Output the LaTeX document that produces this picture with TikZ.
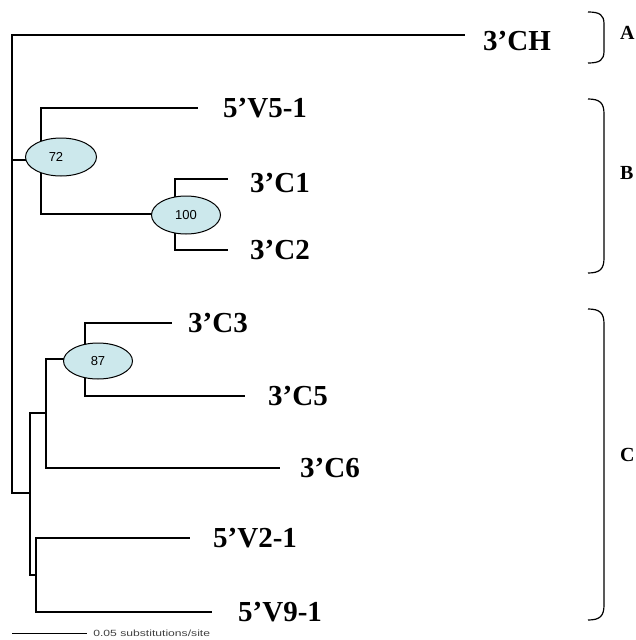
\documentclass[tikz,border=0pt]{standalone}
\usepackage{fontspec}
\setmainfont{Liberation Serif}
\newfontfamily\numfont{Liberation Sans}
\usetikzlibrary{shapes.geometric}
\definecolor{bootfill}{RGB}{204,232,236}
\tikzset{
  x=1pt, y=-1pt,
  branch/.style={line width=1.3pt, line join=miter},
  taxon/.style={anchor=west, inner sep=0pt, font=\fontsize{29}{29}\selectfont\bfseries},
  boot/.style={ellipse, draw, line width=1pt, fill=bootfill, inner sep=0pt,
    font=\numfont\fontsize{13}{13}\selectfont},
  clade/.style={line width=1.2pt},
  cladelabel/.style={anchor=west, inner sep=0pt, font=\fontsize{20}{20}\selectfont\bfseries}
}
\begin{document}
\begin{tikzpicture}
\useasboundingbox (0,0) rectangle (636,640);

% internal nodes
\coordinate (root) at (12,160);
\coordinate (n72)  at (41,160);
\coordinate (n100) at (175,214);
\coordinate (nC)   at (30,493);
\coordinate (nC6)  at (46,413);
\coordinate (n87)  at (85,359);
\coordinate (nV)   at (36,575);

% tips
\coordinate (tCH)  at (465,35);
\coordinate (tV51) at (198,108);
\coordinate (tC1)  at (228,179);
\coordinate (tC2)  at (228,250);
\coordinate (tC3)  at (172,323);
\coordinate (tC5)  at (245,396);
\coordinate (tC6)  at (280,468);
\coordinate (tV21) at (190,538);
\coordinate (tV91) at (212,612);

% branches
\draw[branch] (root) |- (tCH);
\draw[branch] (root) -- (n72);
\draw[branch] (root) |- (nC);
\draw[branch] (n72) |- (tV51);
\draw[branch] (n72) |- (n100);
\draw[branch] (n100) |- (tC1);
\draw[branch] (n100) |- (tC2);
\draw[branch] (nC) |- (nC6);
\draw[branch] (nC) |- (nV);
\draw[branch] (nC6) |- (n87);
\draw[branch] (nC6) |- (tC6);
\draw[branch] (n87) |- (tC3);
\draw[branch] (n87) |- (tC5);
\draw[branch] (nV) |- (tV21);
\draw[branch] (nV) |- (tV91);

% bootstrap values
\node[boot, minimum width=71pt, minimum height=38pt] (b72)  at (61,157) {72\hspace*{10pt}};
\node[boot, minimum width=69pt, minimum height=38pt] (b100) at (186,215) {100};
\node[boot, minimum width=69pt, minimum height=36pt] (b87)  at (98,361) {87};

% taxon names
\node[taxon] (lCH)  at ([xshift=18pt,yshift=-6pt]tCH)  {3’CH};
\node[taxon] (lV51) at ([xshift=25pt]tV51) {5’V5-1};
\node[taxon] (lC1)  at ([xshift=22pt,yshift=-4pt]tC1)  {3’C1};
\node[taxon] (lC2)  at ([xshift=22pt]tC2)  {3’C2};
\node[taxon] (lC3)  at ([xshift=16pt]tC3)  {3’C3};
\node[taxon] (lC5)  at ([xshift=23pt]tC5)  {3’C5};
\node[taxon] (lC6)  at ([xshift=20pt]tC6)  {3’C6};
\node[taxon] (lV21) at ([xshift=23pt]tV21) {5’V2-1};
\node[taxon] (lV91) at ([xshift=26pt]tV91) {5’V9-1};

% clade brackets
\coordinate (aTop) at (588,12);  \coordinate (aBot) at (588,63);
\coordinate (bTop) at (588,99);  \coordinate (bBot) at (588,273);
\coordinate (cTop) at (588,309); \coordinate (cBot) at (588,620);
\draw[clade] (aTop) .. controls (600,12) and (604,15) .. (604,24)
  -- (604,51) .. controls (604,60) and (600,63) .. (aBot);
\draw[clade] (bTop) .. controls (600,99) and (604,103) .. (604,114)
  -- (604,258) .. controls (604,269) and (600,273) .. (bBot);
\draw[clade] (cTop) .. controls (600,309) and (604,313) .. (604,324)
  -- (604,605) .. controls (604,616) and (600,620) .. (cBot);
\node[cladelabel] (lA) at (620,33)  {A};
\node[cladelabel] (lB) at (620,173) {B};
\node[cladelabel] (lC) at (620,455) {C};

% scale bar
\coordinate (sL) at (12,633);
\coordinate (sR) at (87,633);
\draw[line width=1pt] (sL) -- (sR);
\node[anchor=west, inner sep=0pt, xscale=1.35, font=\numfont\fontsize{9}{9}\selectfont, text=black!75]
  (scale) at ([xshift=6pt]sR) {0.05 substitutions/site};
\end{tikzpicture}
\end{document}
